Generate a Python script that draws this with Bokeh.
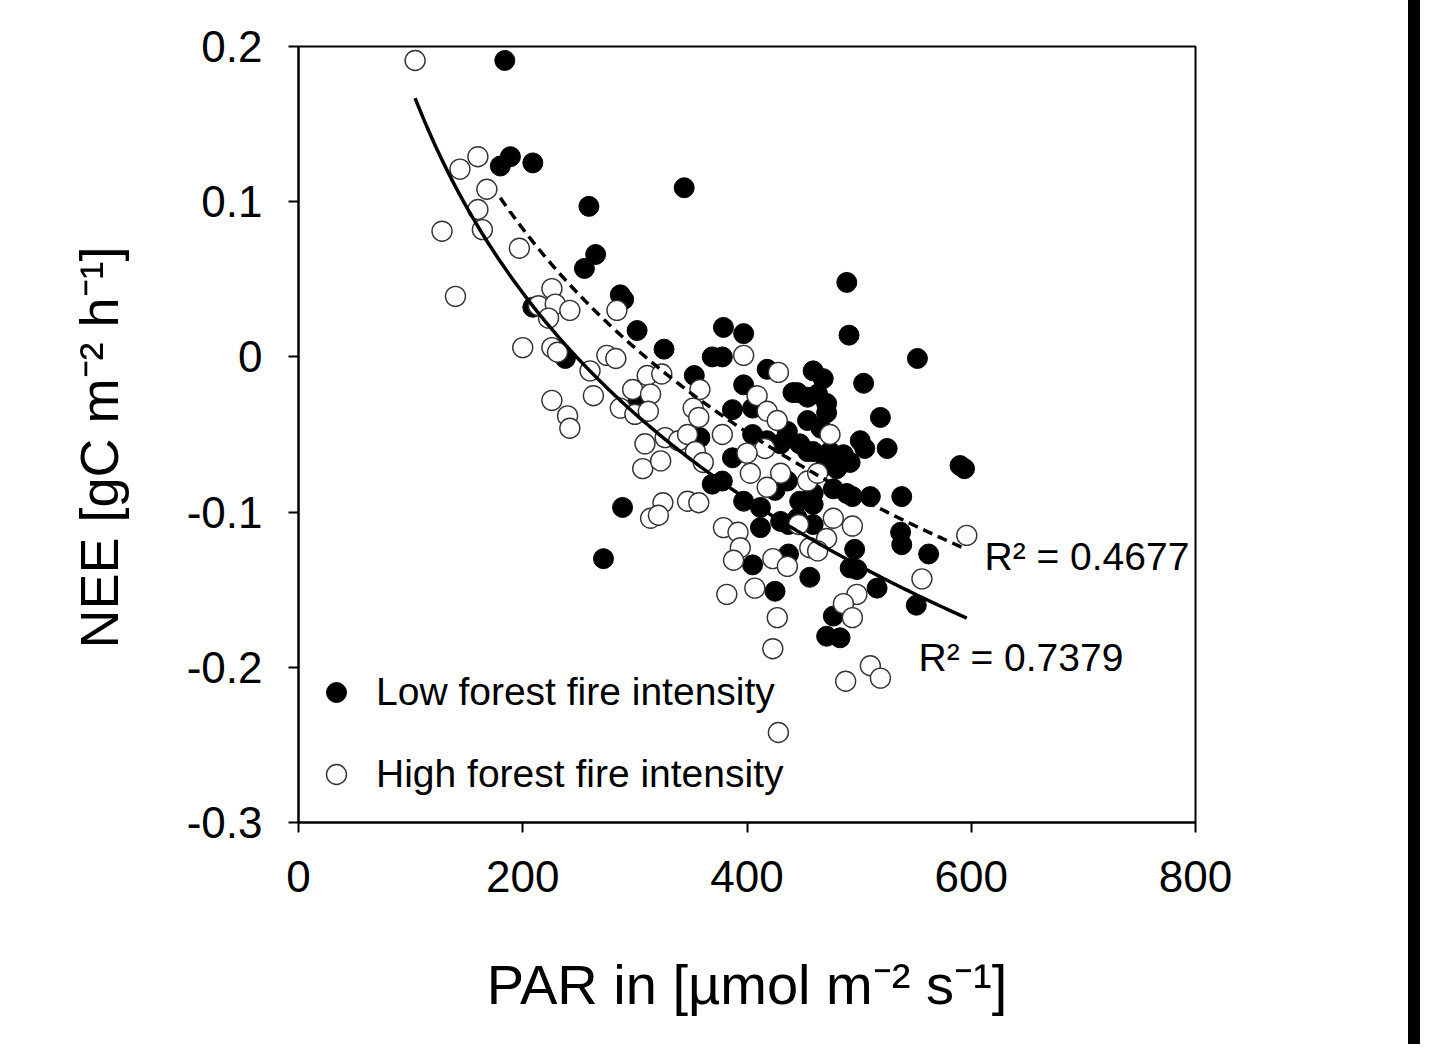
import numpy as np
from bokeh.plotting import figure
from bokeh.models import Label, Legend, LegendItem, FixedTicker, Div, Title
from bokeh.layouts import row
from bokeh.embed import file_html
from bokeh.resources import INLINE

# ---------------- data ----------------
low_par = [184, 180, 189, 209, 259, 265, 255, 344, 287, 290, 302, 326, 209, 238, 353,
           379, 397, 369, 378, 489, 491, 552, 397, 387, 418, 441, 459, 468, 504, 471,
           454, 466, 471, 519, 525, 501, 505, 436, 447, 459, 474, 486, 405, 358, 387,
           289, 272, 369, 378, 397, 425, 436, 459, 477, 489, 494, 510, 538, 537, 538,
           562, 412, 412, 430, 437, 447, 459, 590, 594, 496, 498, 492, 516, 551, 405,
           437, 456, 425, 477, 471, 483, 480, 492, 303, 405, 418, 430, 445, 454, 463,
           454, 445, 459, 483, 470]
low_nee = [0.191, 0.123, 0.129, 0.125, 0.097, 0.066, 0.057, 0.109, 0.040, 0.037, 0.017, 0.005, 0.032, -0.001, -0.012,
           0.019, 0.015, 0.000, 0.000, 0.048, 0.014, -0.001, -0.018, -0.034, -0.008, -0.023, -0.009, -0.014, -0.017, -0.030,
           -0.041, -0.046, -0.036, -0.039, -0.059, -0.054, -0.059, -0.048, -0.056, -0.061, -0.061, -0.063, -0.050, -0.052, -0.065,
           -0.097, -0.130, -0.082, -0.080, -0.093, -0.086, -0.080, -0.088, -0.085, -0.088, -0.090, -0.090, -0.090, -0.113, -0.121,
           -0.127, -0.097, -0.110, -0.106, -0.108, -0.093, -0.095, -0.070, -0.072, -0.124, -0.137, -0.136, -0.149, -0.160, -0.134,
           -0.127, -0.142, -0.151, -0.167, -0.180, -0.181, -0.072, -0.068, -0.028, -0.033, -0.054, -0.056, -0.023, -0.026, -0.024,
           -0.061, -0.104, -0.108, -0.067, -0.070]

high_par = [104, 160, 144, 168, 160, 128, 164, 197, 140, 226, 214, 229, 242, 223, 200,
            226, 231, 260, 263, 226, 240, 242, 284, 275, 283, 287, 300, 298, 311, 314,
            312, 324, 309, 307, 323, 327, 339, 347, 354, 361, 358, 352, 357, 378, 397,
            428, 409, 418, 427, 474, 416, 400, 403, 430, 418, 454, 463, 325, 314, 321,
            347, 357, 379, 392, 446, 477, 494, 471, 394, 388, 423, 436, 456, 463, 382,
            407, 427, 423, 498, 486, 494, 510, 519, 488, 428, 556, 596]
high_nee = [0.191, 0.129, 0.121, 0.108, 0.095, 0.081, 0.082, 0.070, 0.039, 0.044, 0.033, 0.034, 0.030, 0.025, 0.006,
            0.006, 0.003, -0.009, -0.025, -0.028, -0.038, -0.046, 0.030, 0.001, -0.001, -0.033, -0.037, -0.021, -0.012, -0.024,
            -0.035, -0.011, -0.056, -0.072, -0.067, -0.052, -0.054, -0.050, -0.061, -0.068, -0.021, -0.033, -0.039, -0.050, 0.001,
            -0.010, -0.025, -0.035, -0.041, -0.050, -0.059, -0.062, -0.075, -0.075, -0.084, -0.080, -0.075, -0.094, -0.104, -0.102,
            -0.093, -0.094, -0.110, -0.113, -0.108, -0.104, -0.109, -0.117, -0.123, -0.131, -0.130, -0.135, -0.123, -0.125, -0.153,
            -0.149, -0.168, -0.188, -0.153, -0.159, -0.168, -0.199, -0.207, -0.209, -0.242, -0.143, -0.115]

# logarithmic trend lines y = a*ln(x) + b
low_fit_a, low_fit_b = -0.1892, 1.085      # dashed, R² = 0.4677
high_fit_a, high_fit_b = -0.1919, 1.058    # solid,  R² = 0.7379
low_r2_text = "R² = 0.4677"
high_r2_text = "R² = 0.7379"

x_ticks = [0, 200, 400, 600, 800]
y_ticks = [-0.3, -0.2, -0.1, 0, 0.1, 0.2]
y_tick_labels = ["-0.3", "-0.2", "-0.1", "0", "0.1", "0.2"]

legend_labels = ["Low forest fire intensity", "High forest fire intensity"]
x_title = "PAR in [µmol m⁻² s⁻¹]"
y_title = "NEE [gC m⁻² h⁻¹]"

FONT = "Liberation Sans"

# ---------------- figure ----------------
p = figure(width=1408, height=1044, x_range=(0, 800), y_range=(-0.3, 0.2),
           output_backend="svg", toolbar_location=None,
           min_border_left=298, min_border_right=213,
           min_border_top=46, min_border_bottom=222)
p.grid.visible = False
p.outline_line_color = "black"
p.outline_line_width = 2
p.background_fill_color = "white"
p.border_fill_color = "white"

for ax in (p.xaxis[0], p.yaxis[0]):
    ax.axis_line_width = 2
    ax.axis_line_color = "black"
    ax.major_tick_line_width = 2
    ax.major_tick_line_color = "black"
    ax.major_tick_out = 10
    ax.major_tick_in = 0
    ax.minor_tick_line_color = None
    ax.major_label_text_font = FONT
    ax.major_label_text_font_size = "44px"
    ax.major_label_text_color = "black"

p.xaxis.ticker = FixedTicker(ticks=x_ticks)
p.yaxis.ticker = FixedTicker(ticks=y_ticks)
p.yaxis.major_label_overrides = {t: l for t, l in zip(y_ticks, y_tick_labels)}
p.xaxis.major_label_overrides = {t: str(t) for t in x_ticks}
p.yaxis.major_label_standoff = 26
p.xaxis.major_label_standoff = 28

# x axis title
p.xaxis.axis_label = x_title
p.xaxis.axis_label_standoff = 58
p.xaxis.axis_label_text_font = FONT
p.xaxis.axis_label_text_font_size = "56px"
p.xaxis.axis_label_text_font_style = "normal"
p.xaxis.axis_label_text_color = "black"

# points
r_low = p.scatter(low_par, low_nee, size=20, marker="circle",
                  fill_color="black", line_color="black", line_width=1)
r_high = p.scatter(high_par, high_nee, size=20, marker="circle",
                   fill_color="white", line_color="#333333", line_width=1.4)

# trend lines
xl = np.linspace(min(low_par), max(low_par), 200)
p.line(xl, low_fit_a * np.log(xl) + low_fit_b, line_color="black",
       line_width=3.5, line_dash="10 6")
xh = np.linspace(min(high_par), max(high_par), 200)
p.line(xh, high_fit_a * np.log(xh) + high_fit_b, line_color="black", line_width=3.5)

# legend
legend = Legend(items=[LegendItem(label=legend_labels[0], renderers=[r_low]),
                       LegendItem(label=legend_labels[1], renderers=[r_high])],
                location=(13, 23), glyph_width=50, glyph_height=50, spacing=32,
                padding=0, margin=0, label_standoff=15,
                label_text_font=FONT, label_text_font_size="39px",
                label_text_color="black", label_text_baseline="middle",
                border_line_color=None, background_fill_alpha=0)
p.add_layout(legend)

# R² labels
p.add_layout(Label(x=686, y=266, x_units="screen", y_units="screen", text=low_r2_text,
                   text_font=FONT, text_font_size="39px", text_baseline="middle",
                   text_color="black"))
p.add_layout(Label(x=620, y=165, x_units="screen", y_units="screen", text=high_r2_text,
                   text_font=FONT, text_font_size="39px", text_baseline="middle",
                   text_color="black"))

# y axis title
p.add_layout(Title(text=y_title, align="left", offset=174, standoff=110,
                   text_font=FONT, text_font_size="54px", text_font_style="normal",
                   text_color="black"), "left")

bar = Div(width=12, height=1044, margin=0, styles={"background-color": "black"})
layout = row(p, bar, spacing=0)

open("out.html", "w").write(file_html(layout, INLINE))
